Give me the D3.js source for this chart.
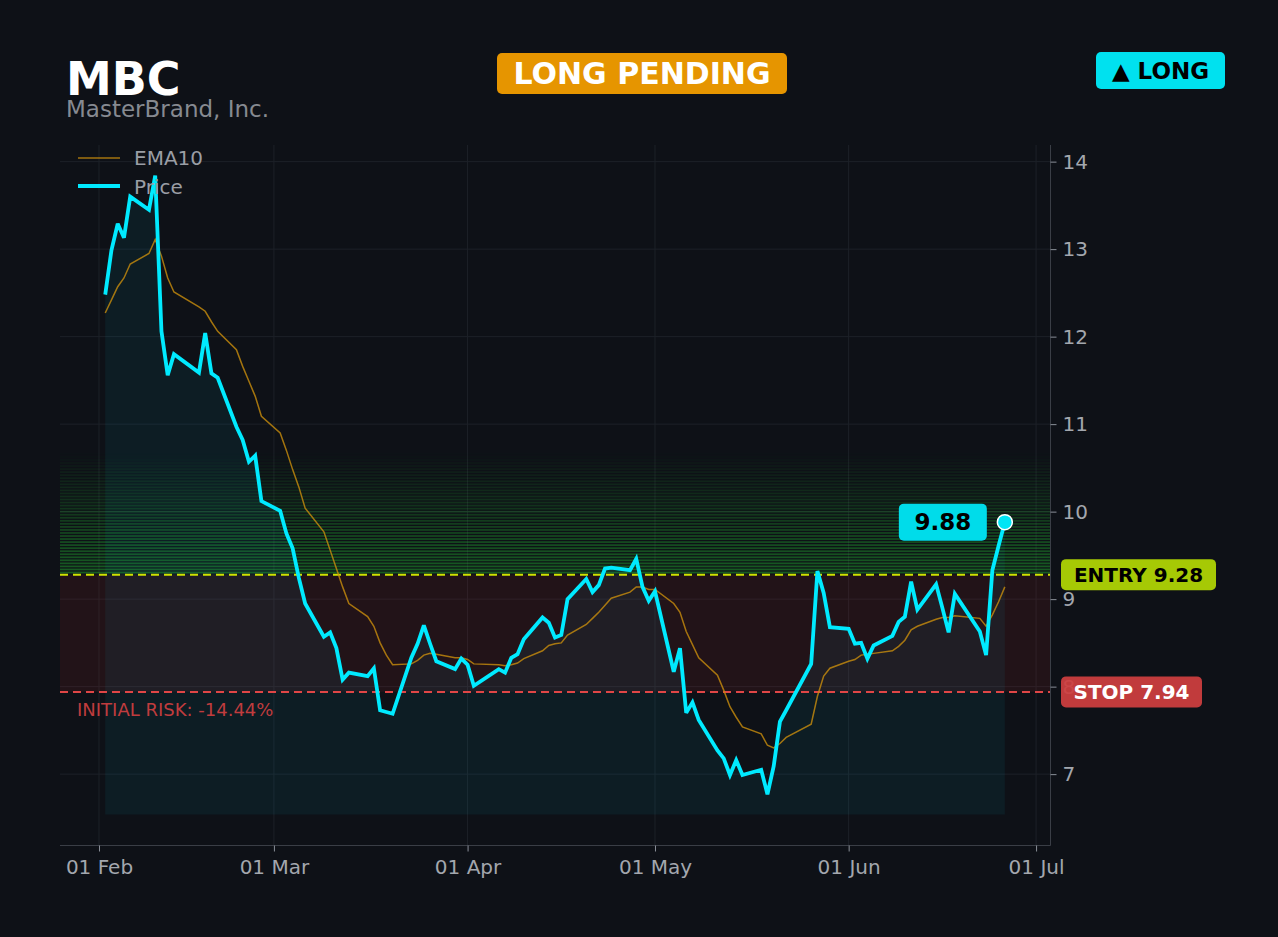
<!DOCTYPE html>
<html>
<head>
<meta charset="utf-8">
<script src="https://cdn.jsdelivr.net/npm/d3@7"></script>
<style>
  html, body { margin: 0; padding: 0; background: #0e1117; }
  svg { display: block; font-family: "DejaVu Sans", sans-serif; }
</style>
</head>
<body>
<div id="chart"></div>
<script>
const WIDTH = 1278;
const HEIGHT = 937;

// trading days, 2026
const dates = [
  "02-02","02-03","02-04","02-05","02-06","02-09","02-10","02-11","02-12","02-13",
  "02-17","02-18","02-19","02-20","02-23","02-24","02-25","02-26","02-27",
  "03-02","03-03","03-04","03-05","03-06","03-09","03-10","03-11","03-12","03-13",
  "03-16","03-17","03-18","03-19","03-20","03-23","03-24","03-25","03-26","03-27","03-30","03-31",
  "04-01","04-02","04-06","04-07","04-08","04-09","04-10","04-13","04-14","04-15","04-16","04-17",
  "04-20","04-21","04-22","04-23","04-24","04-27","04-28","04-29","04-30",
  "05-01","05-04","05-05","05-06","05-07","05-08","05-11","05-12","05-13","05-14","05-15",
  "05-18","05-19","05-20","05-21","05-22","05-26","05-27","05-28","05-29",
  "06-01","06-02","06-03","06-04","06-05","06-08","06-09","06-10","06-11","06-12",
  "06-15","06-16","06-17","06-18","06-22","06-23","06-24","06-25","06-26"
];

const price = [
  12.48,12.99,13.29,13.13,13.60,13.45,13.84,12.06,11.56,11.80,
  11.59,12.04,11.58,11.53,10.97,10.82,10.57,10.64,10.12,
  10.01,9.75,9.58,9.24,8.95,8.57,8.62,8.44,8.08,8.16,
  8.12,8.21,7.73,7.71,7.69,8.33,8.49,8.70,8.49,8.29,8.20,8.32,
  8.25,8.01,8.20,8.16,8.33,8.37,8.54,8.79,8.73,8.56,8.59,9.00,
  9.23,9.08,9.16,9.35,9.36,9.33,9.46,9.14,8.98,
  9.09,8.17,8.44,7.70,7.82,7.62,7.27,7.18,6.99,7.16,6.99,
  7.05,6.77,7.09,7.60,7.73,8.26,9.32,9.07,8.68,
  8.66,8.49,8.50,8.32,8.47,8.58,8.74,8.80,9.20,8.88,
  9.17,8.90,8.62,9.06,8.63,8.36,9.33,9.61,9.88
];

const ema10 = [
  12.27,12.42,12.57,12.67,12.83,12.95,13.11,12.92,12.67,12.51,
  12.34,12.29,12.17,12.06,11.85,11.66,11.49,11.32,11.09,
  10.90,10.70,10.48,10.28,10.04,9.77,9.56,9.35,9.14,8.95,
  8.80,8.69,8.50,8.36,8.25,8.26,8.30,8.36,8.38,8.37,8.33,8.33,
  8.31,8.26,8.25,8.24,8.25,8.27,8.32,8.41,8.47,8.49,8.50,8.59,
  8.71,8.78,8.85,8.93,9.01,9.08,9.14,9.14,9.11,
  9.11,8.95,8.85,8.63,8.48,8.33,8.13,7.96,7.77,7.65,7.54,
  7.46,7.33,7.30,7.35,7.42,7.57,7.89,8.12,8.21,
  8.29,8.31,8.36,8.37,8.38,8.41,8.46,8.53,8.65,8.69,
  8.77,8.79,8.79,8.81,8.78,8.69,8.82,8.97,9.14
];

const ENTRY = 9.28;
const STOP = 7.94;
const TARGET_ZONE_TOP = 10.67;
const AREA_BASE = 6.54;
const yTicks = [7, 8, 9, 10, 11, 12, 13, 14];
const xTicks = ["02-01", "03-01", "04-01", "05-01", "06-01", "07-01"];

const parse = s => new Date("2026-" + s + "T00:00:00Z");
const rows = dates.map((d, i) => ({ date: parse(d), price: price[i], ema: ema10[i] }));

const M = { left: 60, right: 1050, top: 145, bottom: 845 };

const x = d3.scaleUtc()
  .domain([new Date(Date.UTC(2026, 0, 25, 18, 14)), new Date(Date.UTC(2026, 6, 3, 5, 30))])
  .range([M.left, M.right]);
const y = d3.scaleLinear().domain([6.19, 14.19]).range([M.bottom, M.top]);

const svg = d3.select("#chart").append("svg")
  .attr("width", WIDTH).attr("height", HEIGHT);

svg.append("rect").attr("width", WIDTH).attr("height", HEIGHT).attr("fill", "#0e1117");

svg.append("clipPath").attr("id", "plot")
  .append("rect").attr("x", M.left).attr("y", M.top)
  .attr("width", M.right - M.left).attr("height", M.bottom - M.top);

const plot = svg.append("g").attr("clip-path", "url(#plot)");

// grid
plot.selectAll(".hgrid").data(yTicks).enter().append("line")
  .attr("x1", M.left).attr("x2", M.right)
  .attr("y1", d => y(d)).attr("y2", d => y(d))
  .attr("stroke", "#1d2128").attr("stroke-width", 1);
plot.selectAll(".vgrid").data(xTicks).enter().append("line")
  .attr("y1", M.top).attr("y2", M.bottom)
  .attr("x1", d => x(parse(d))).attr("x2", d => x(parse(d)))
  .attr("stroke", "#1d2128").attr("stroke-width", 1);

// green target gradient (striped)
const N_STRIPES = 40;
const step = (TARGET_ZONE_TOP - ENTRY) / N_STRIPES;
const stripes = d3.range(N_STRIPES);
plot.selectAll(".stripe").data(stripes).enter().append("rect")
  .attr("x", M.left).attr("width", M.right - M.left)
  .attr("y", i => y(ENTRY + (i + 1) * step))
  .attr("height", i => (y(ENTRY + i * step) - y(ENTRY + (i + 1) * step)) * 0.6)
  .attr("fill", "#25c433")
  .attr("opacity", i => 0.42 * (1 - i / N_STRIPES));

// red risk zone
plot.append("rect")
  .attr("x", M.left).attr("width", M.right - M.left)
  .attr("y", y(ENTRY)).attr("height", y(STOP) - y(ENTRY))
  .attr("fill", "#dc2828").attr("opacity", 0.1);

// area under price
const area = d3.area()
  .x(d => x(d.date)).y0(y(AREA_BASE)).y1(d => y(d.price));
plot.append("path").datum(rows)
  .attr("d", area).attr("fill", "#00e5ff").attr("opacity", 0.06);

// entry / stop lines
plot.append("line")
  .attr("x1", M.left).attr("x2", M.right)
  .attr("y1", y(ENTRY)).attr("y2", y(ENTRY))
  .attr("stroke", "#cfe300").attr("stroke-width", 2).attr("stroke-dasharray", "8,5");
plot.append("line")
  .attr("x1", M.left).attr("x2", M.right)
  .attr("y1", y(STOP)).attr("y2", y(STOP))
  .attr("stroke", "#e04646").attr("stroke-width", 2).attr("stroke-dasharray", "8,5");

// EMA and price lines
plot.append("path").datum(rows)
  .attr("d", d3.line().x(d => x(d.date)).y(d => y(d.ema)))
  .attr("fill", "none").attr("stroke", "#c98d0c").attr("stroke-opacity", 0.8)
  .attr("stroke-width", 1.5);
plot.append("path").datum(rows)
  .attr("d", d3.line().x(d => x(d.date)).y(d => y(d.price)))
  .attr("fill", "none").attr("stroke", "#00eaff").attr("stroke-width", 3.8)
  .attr("stroke-linejoin", "miter").attr("stroke-miterlimit", 3);

// spines
svg.append("line").attr("x1", M.left).attr("x2", M.right + 0.5)
  .attr("y1", M.bottom + 0.5).attr("y2", M.bottom + 0.5).attr("stroke", "#3a3e46");
svg.append("line").attr("x1", M.right + 0.5).attr("x2", M.right + 0.5)
  .attr("y1", M.top).attr("y2", M.bottom + 0.5).attr("stroke", "#3a3e46");

// axes
const yAxis = d3.axisRight(y).tickValues(yTicks).tickSize(6).tickPadding(6).tickFormat(d3.format("d"));
const gy = svg.append("g").attr("transform", `translate(${M.right + 0.5},0)`).call(yAxis);
const xAxis = d3.axisBottom(x).tickValues(xTicks.map(parse)).tickSize(6).tickPadding(8)
  .tickFormat(d3.utcFormat("%d %b"));
const gx = svg.append("g").attr("transform", `translate(0,${M.bottom + 0.5})`).call(xAxis);
[gx, gy].forEach(g => {
  g.select(".domain").remove();
  g.selectAll(".tick line").attr("stroke", "#8a8f98");
  g.selectAll(".tick text").attr("fill", "#a3a7ae")
    .style("font-family", "DejaVu Sans").style("font-size", "20px");
});

// title
svg.append("text").attr("x", 66).attr("y", 95).text("MBC")
  .attr("fill", "#ffffff").style("font-size", "46px").style("font-weight", "bold");
svg.append("text").attr("x", 66).attr("y", 117).text("MasterBrand, Inc.")
  .attr("fill", "#868a91").style("font-size", "23px");

// badge helper
const badge = (cx, cy, w, h, fill, label, color, size, opacity) => {
  const g = svg.append("g");
  g.append("rect").attr("x", cx - w / 2).attr("y", cy - h / 2)
    .attr("width", w).attr("height", h).attr("rx", 5)
    .attr("fill", fill).attr("opacity", opacity || 1);
  g.append("text").attr("x", cx).attr("y", cy).text(label)
    .attr("text-anchor", "middle").attr("dominant-baseline", "central")
    .attr("fill", color).style("font-size", size + "px").style("font-weight", "bold");
  return g;
};

badge(642, 73.5, 290, 41, "#e69500", "LONG PENDING", "#ffffff", 30);
badge(1160.5, 70.5, 129, 37, "#00e1ef", "▲ LONG", "#000000", 23);

// legend
svg.append("line").attr("x1", 78).attr("x2", 120).attr("y1", 158).attr("y2", 158)
  .attr("stroke", "#c98d0c").attr("stroke-opacity", 0.8).attr("stroke-width", 1.5);
svg.append("text").attr("x", 134).attr("y", 165).text("EMA10")
  .attr("fill", "#9a9ea5").style("font-size", "20px");
svg.append("line").attr("x1", 78).attr("x2", 120).attr("y1", 186).attr("y2", 186)
  .attr("stroke", "#00eaff").attr("stroke-width", 3.8);
svg.append("text").attr("x", 134).attr("y", 194).text("Price")
  .attr("fill", "#9a9ea5").style("font-size", "20px");

// risk text
svg.append("text").attr("x", 77).attr("y", 716).text("INITIAL RISK: -14.44%")
  .attr("fill", "#c03c3e").style("font-size", "18px");

// entry / stop labels on the right
badge(1138.5, y(ENTRY), 155, 31, "#a6c905", "ENTRY 9.28", "#000000", 20);
badge(1131.5, y(STOP), 141, 31, "#cf3e3f", "STOP 7.94", "#ffffff", 20, 0.93);

// last price marker and label
const last = rows[rows.length - 1];
svg.append("circle").attr("cx", x(last.date)).attr("cy", y(last.price)).attr("r", 7.5)
  .attr("fill", "#00e5f5").attr("stroke", "#ffffff").attr("stroke-width", 1.5);
badge(x(last.date) - 62, y(last.price), 88, 37, "#00dcea", d3.format(".2f")(last.price), "#000000", 23);
</script>
</body>
</html>
